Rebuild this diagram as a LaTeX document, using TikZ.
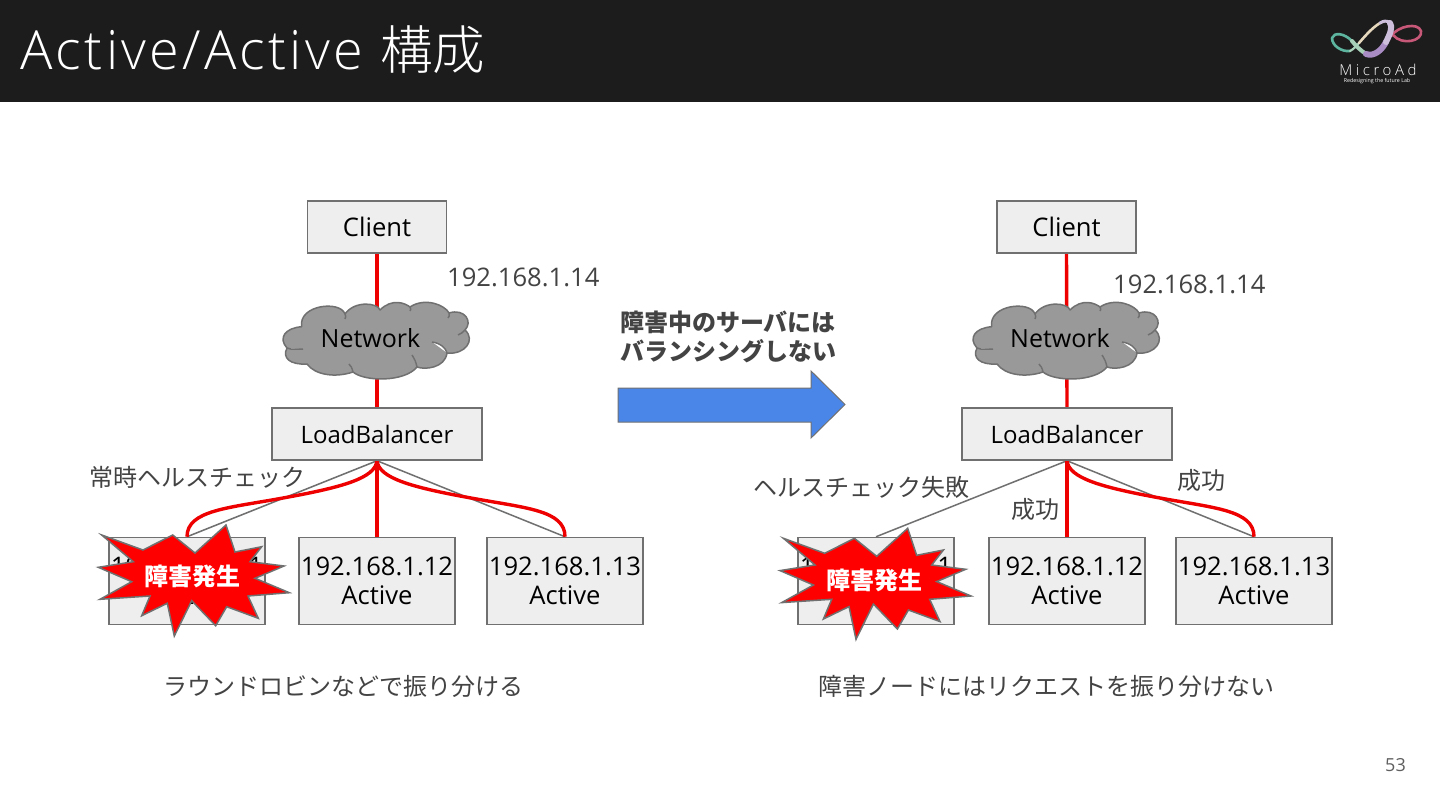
\documentclass[tikz,border=0pt]{standalone}
\usepackage{fontspec}
\setmainfont{Open Sans}
\newfontfamily\titlef[LetterSpace=6]{Open Sans Light}
\newfontfamily\brandf[LetterSpace=24]{Open Sans Light}
\newfontfamily\cjk{Noto Sans CJK JP}
\newfontfamily\cjkl{Noto Sans CJK JP Light}
\usetikzlibrary{backgrounds}
\definecolor{band}{HTML}{1C1C1C}
\definecolor{boxfill}{HTML}{EEEEEE}
\definecolor{edge}{HTML}{707070}
\definecolor{labelc}{HTML}{434343}
\definecolor{redl}{HTML}{EE0000}
\definecolor{cloudc}{HTML}{999999}
\definecolor{bluea}{HTML}{4A86E8}
\tikzset{
  srv/.style={draw=edge,fill=boxfill,line width=1.5pt,minimum width=156pt,minimum height=87pt,inner sep=0pt,align=center,text=black,font=\fontsize{25.6}{29.5}\selectfont},
  ctl/.style={draw=edge,fill=boxfill,line width=1.5pt,minimum height=52pt,inner sep=0pt,text=black},
  ip/.style={text=labelc,inner sep=0pt,font=\fontsize{25.6}{29}\selectfont},
  jp/.style={text=labelc,inner sep=0pt,font=\cjk\fontsize{24}{29}\selectfont},
  jpb/.style={text=labelc,inner sep=0pt,align=left,font=\cjk\bfseries\fontsize{24}{29}\selectfont},
  redline/.style={draw=redl,line width=3.4pt},
  grayline/.style={draw=edge,line width=1.5pt},
  cloudshape/.style={draw=edge,fill=cloudc,line width=1.5pt,line join=round},
  starshape/.style={draw=edge,fill=red,line width=1.5pt,line join=miter},
  stxt/.style={text=white,inner sep=0pt,font=\cjk\bfseries\fontsize{24}{29}\selectfont},
  nettxt/.style={text=black,inner sep=0pt,font=\fontsize{25}{29}\selectfont},
  logo/.style={line cap=round,line join=round}
}
\newcommand{\cloudpath}{%
  (301.7,326.7) .. controls (298,305) and (340,300) .. (345,314)
  .. controls (355,300) and (378,303) .. (380,310)
  .. controls (392,298) and (405,303) .. (410,307)
  .. controls (425,297) and (445,305) .. (449,313)
  .. controls (465,308) and (473,322) .. (465,330)
  .. controls (476,340) and (465,355) .. (447,353)
  .. controls (445,368) and (425,370) .. (417,367)
  .. controls (405,382) and (365,382) .. (353,372)
  .. controls (335,378) and (315,375) .. (307,364)
  .. controls (290,365) and (282,358) .. (287,348)
  .. controls (278,338) and (285,328) .. (301.7,326.7) -- cycle
  (287,348) .. controls (292,350) and (297,349) .. (303,349)
  (465,330) .. controls (463,332) and (461,334) .. (458,335)
  (447,353) .. controls (446,348) and (440,343) .. (432,342)
  (417,367) .. controls (416,362) and (414,358) .. (412,355)
  (353,372) .. controls (352,368) and (351,366) .. (349,364)
  (345,314) .. controls (346,316) and (346,317) .. (345,319)
  (410,307) .. controls (411,309) and (411,310) .. (410,311)
  (449,313) .. controls (450,315) and (449,317) .. (448,318)
}
\newcommand{\starpath}{%
  (101.7,535) -- (143,550) -- (172.7,535) -- (195,553) -- (226,525) -- (235,552)
  -- (261.7,546.7) -- (250,561.7) -- (284,566) -- (255,578.3) -- (289.3,592.7)
  -- (248,596) -- (258.3,618.3) -- (226.7,606.7) -- (215.7,625.7) -- (191.7,600.7)
  -- (174.3,636) -- (167.3,603.3) -- (141.7,615.7) -- (150,596) -- (100,599.3)
  -- (131.7,581.7) -- (98.3,567.3) -- (133.3,561.7) -- cycle
}
\begin{document}
\begin{tikzpicture}[x=1pt,y=-1pt]
\useasboundingbox (0,0) rectangle (1440,810);
\begin{scope}[on background layer]
  \fill[white] (0,0) rectangle (1440,810);
  \fill[band] (0,0) rectangle (1440,102);
\end{scope}
\node[anchor=base west,text=white,inner sep=0pt,font=\titlef\fontsize{54}{58}\selectfont] (title) at (20,69.3) {Active/Active {\cjkl\fontsize{52.5}{58}\selectfont 構成}};
% logo
\definecolor{lteal}{HTML}{5DB5A0}
\definecolor{lgreen}{HTML}{A8D0B8}
\definecolor{lpurple}{HTML}{A98CC4}
\definecolor{llav}{HTML}{CDBEDC}
\definecolor{lcream}{HTML}{E6D8BC}
\definecolor{lpink}{HTML}{C85878}
\draw[logo,lpink,line width=2.6pt] (1391,36) .. controls (1398,26) and (1418,22) .. (1421,31) .. controls (1423,41) and (1402,46) .. (1393,35);
\draw[logo,lteal,line width=2.6pt] (1352,41) .. controls (1344,33) and (1334,32) .. (1332,38) .. controls (1332,46) and (1342,52) .. (1350,51);
\draw[logo,lgreen,line width=2.2pt] (1350,51) .. controls (1354,49) and (1356,46) .. (1359,43);
\draw[logo,lcream,line width=2.6pt] (1359,43) .. controls (1366,35) and (1372,28) .. (1380,23);
\draw[logo,lgreen,line width=4pt] (1352,41) .. controls (1356,46) and (1360,50) .. (1366,54);
\draw[logo,lpurple,line width=6pt] (1366,54) .. controls (1374,57) and (1382,50) .. (1386,42);
\draw[logo,llav,line width=6pt] (1386,42) .. controls (1390,34) and (1393,27) .. (1390,23);
\draw[logo,llav,line width=3pt] (1390,23) .. controls (1387,20) and (1383,21) .. (1380,23);
\node[text=white,inner sep=0pt,font=\brandf\fontsize{15}{16}\selectfont] (brand) at (1378,70) {MicroAd};
\node[text=white,inner sep=0pt,font=\fontsize{5.3}{6}\selectfont] (tag) at (1377,81) {Redesigning the future Lab};
% left panel
\node[ctl,minimum width=139pt,font=\fontsize{25.6}{29}\selectfont] (c1) at (377,227) {Client};
\node[ctl,minimum width=210pt,font=\fontsize{24}{29}\selectfont] (lb1) at (377,434) {LoadBalancer};
\node[srv] (s11) at (187,581) {192.168.1.11\\Active};
\node[srv] (s12) at (377,581) {192.168.1.12\\Active};
\node[srv] (s13) at (565,581) {192.168.1.13\\Active};
\draw[cloudshape] \cloudpath;
\node[nettxt] (n1) at (370.5,338) {Network};
\node[ip,anchor=base west] (ip1) at (447,287) {192.168.1.14};
\node[jp] (hc1) at (197.5,477) {常時ヘルスチェック};
\node[jp] (cap1) at (343.5,686) {ラウンドロビンなどで振り分ける};
\draw[starshape] \starpath;
\node[stxt] (st1) at (192.5,576) {障害発生};
% arrow
\node[jpb,anchor=north west] (msg) at (620,311) {障害中のサーバには\\バランシングしない};
\draw[draw=edge,fill=bluea,line width=1pt] (618,388) -- (811,388) -- (811,371) -- (845,404.5) -- (811,438) -- (811,422) -- (618,422) -- cycle;
% right panel
\node[ctl,minimum width=139pt,font=\fontsize{25.6}{29}\selectfont] (c2) at (1066.5,227) {Client};
\node[ctl,minimum width=210pt,font=\fontsize{24}{29}\selectfont] (lb2) at (1067,434) {LoadBalancer};
\node[srv] (s21) at (876,581) {192.168.1.11\\Active};
\node[srv] (s22) at (1067,581) {192.168.1.12\\Active};
\node[srv] (s23) at (1254,581) {192.168.1.13\\Active};
\begin{scope}[shift={(690,0)}]
  \draw[cloudshape] \cloudpath;
\end{scope}
\node[nettxt] (n2) at (1060,338) {Network};
\node[ip,anchor=base west] (ip2) at (1113,294) {192.168.1.14};
\node[jp] (hc2) at (861.5,487) {ヘルスチェック失敗};
\node[jp] (ok1) at (1035,509) {成功};
\node[jp] (ok2) at (1201,480) {成功};
\node[jp] (cap2) at (1046.5,686) {障害ノードにはリクエストを振り分けない};
\begin{scope}[shift={(681.7,3.3)}]
  \draw[starshape] \starpath;
\end{scope}
\node[stxt] (st2) at (874.5,580) {障害発生};
\node[text=labelc!85!white,inner sep=0pt,font=\fontsize{18}{20}\selectfont] (pg) at (1395.5,765.5) {53};
% connectors
\begin{scope}[on background layer]
  \draw[redline] (c1.south) -- (lb1.north);
  \draw[redline] (c2.south) -- (lb2.north);
  \draw[grayline] (lb1.south) -- (s11.north);
  \draw[grayline] (lb1.south) -- (s13.north);
  \draw[redline] (lb1.south) .. controls (375,478) and (344,487) .. (283,498) .. controls (229,508) and (187,510) .. (s11.north);
  \draw[redline] (lb1.south) -- (s12.north);
  \draw[redline] (lb1.south) .. controls (379,478) and (410,487) .. (471,498) .. controls (525,508) and (565,510) .. (s13.north);
  \draw[grayline] (lb2.south) -- (s21.north);
  \draw[grayline] (lb2.south) -- (s23.north);
  \draw[redline] (lb2.south) -- (s22.north);
  \draw[redline] (lb2.south) .. controls (1069,478) and (1100,487) .. (1160,498) .. controls (1214,508) and (1254,510) .. (s23.north);
\end{scope}
\end{tikzpicture}
\end{document}
